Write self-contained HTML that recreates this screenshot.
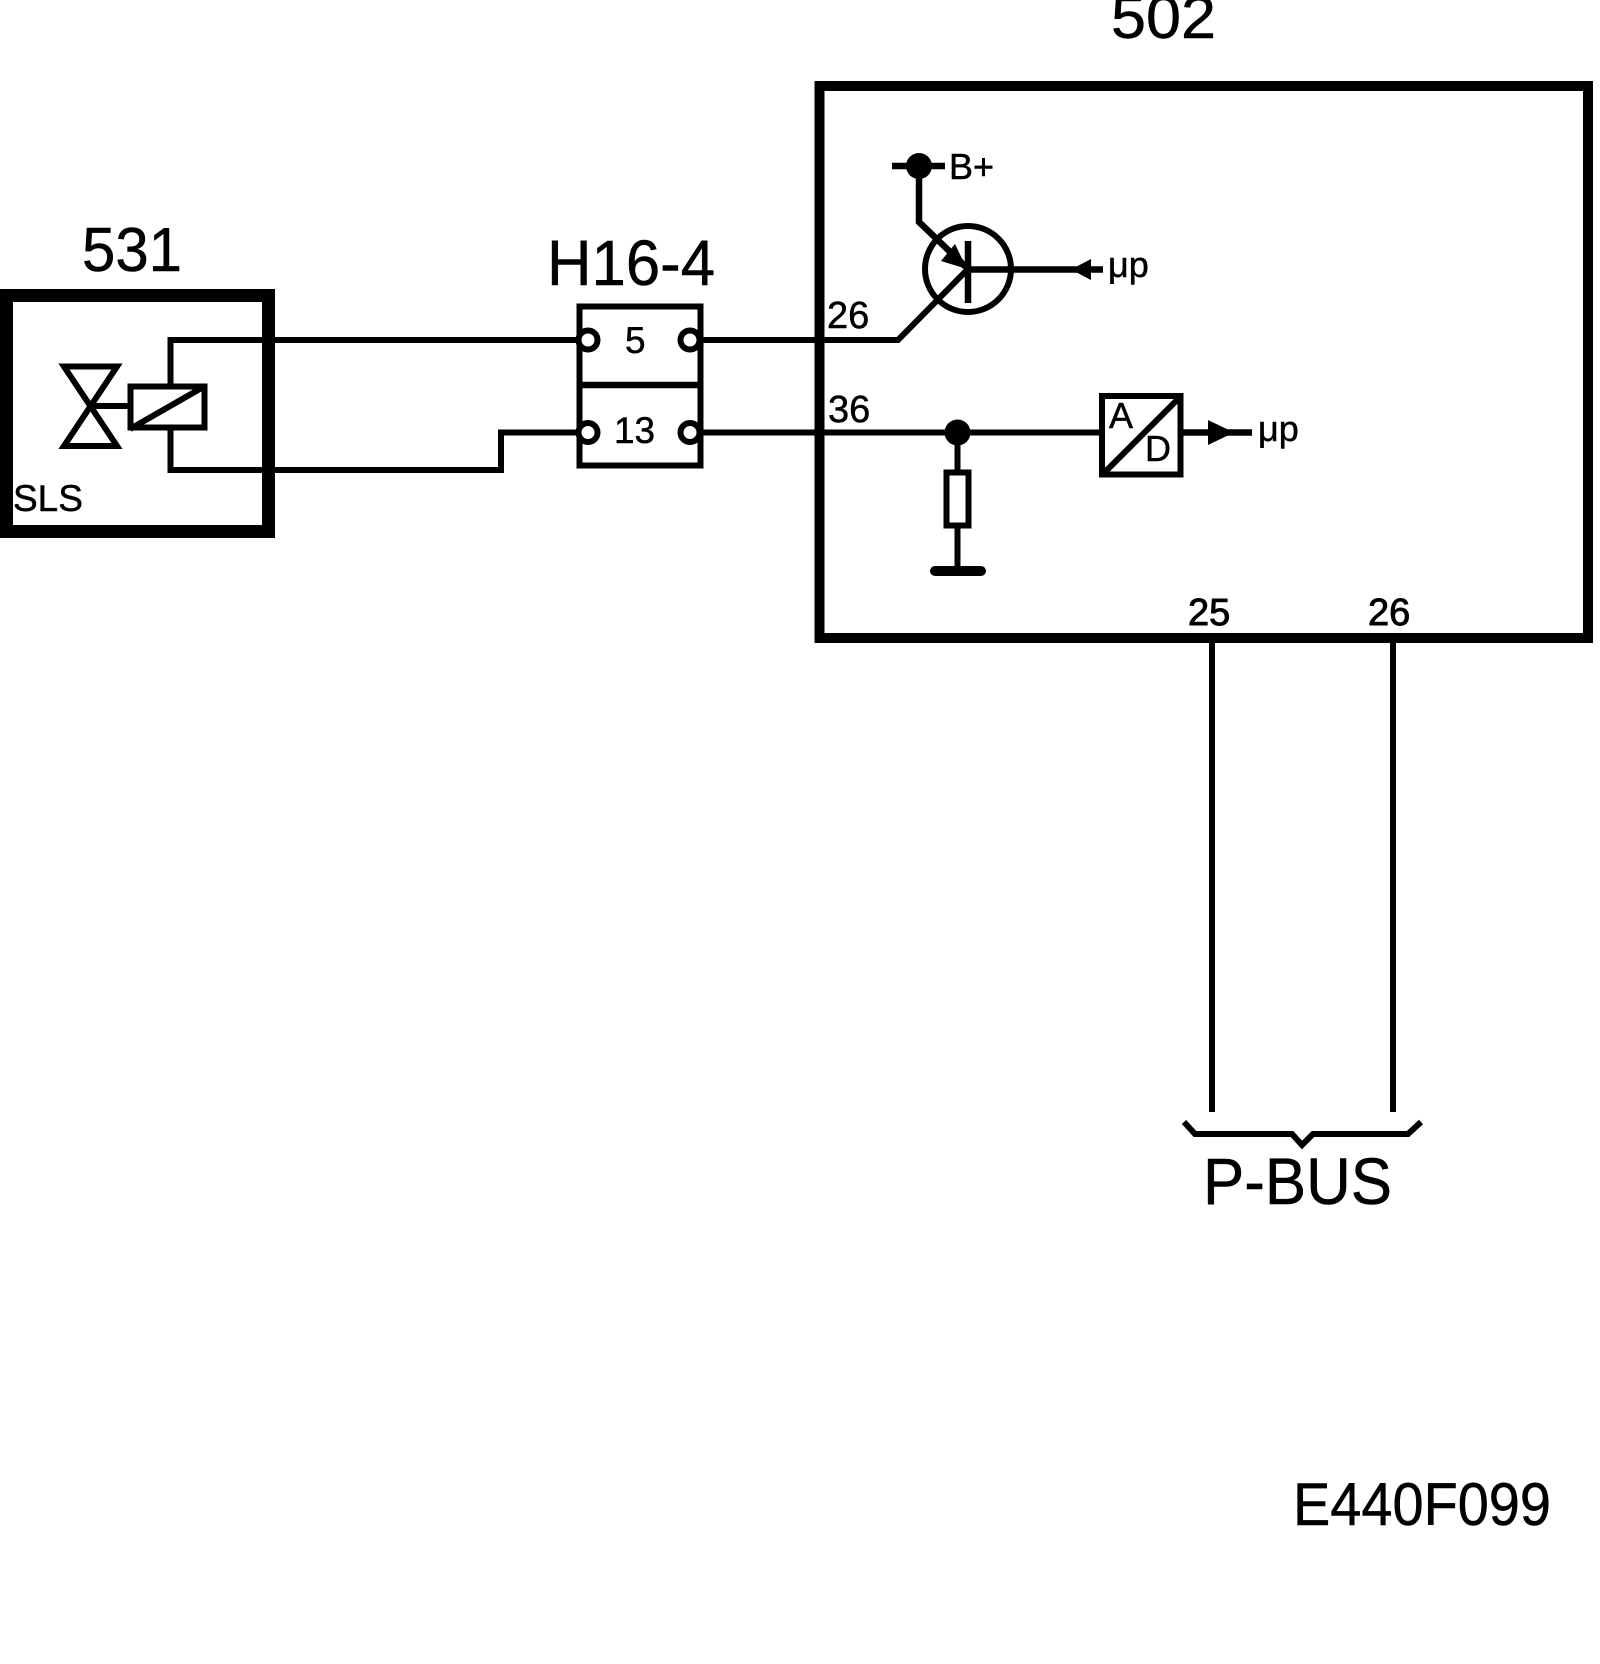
<!DOCTYPE html>
<html>
<head>
<meta charset="utf-8">
<style>
html,body{margin:0;padding:0;background:#fff;}
svg{display:block;}
text{font-family:"Liberation Sans",Arial,sans-serif;fill:#000;stroke:#000;stroke-width:0.5px;}
</style>
</head>
<body>
<svg width="1600" height="1664" viewBox="0 0 1600 1664" xmlns="http://www.w3.org/2000/svg">
<rect width="1600" height="1664" fill="#fff"/>
<g fill="none" stroke="#000" stroke-linejoin="miter">
  <!-- 531 -->
  <rect x="6.5" y="295.5" width="262" height="236" stroke-width="13"/>
  <path d="M585 340H170.5V385" stroke-width="6"/>
  <path d="M170.5 430V470H501V432.5H580" stroke-width="6"/>
  <rect x="130.5" y="386.5" width="74" height="41" stroke-width="6"/>
  <path d="M130 429L205 386" stroke-width="6"/>
  <path d="M64 366.5H117L64 446H117Z" stroke-width="6"/>
  <path d="M90 406H130" stroke-width="6"/>
  <!-- H16-4 -->
  <rect x="579.5" y="306.5" width="121" height="159" stroke-width="6"/>
  <path d="M580 385H700" stroke-width="6.5"/>
  <path d="M700 340H898L968 269" stroke-width="6"/>
  <path d="M700 432.5H1100" stroke-width="6"/>
  <circle cx="588" cy="340" r="9.5" fill="#fff" stroke-width="6"/>
  <circle cx="690" cy="340" r="9.5" fill="#fff" stroke-width="6"/>
  <circle cx="588" cy="432.5" r="9.5" fill="#fff" stroke-width="6"/>
  <circle cx="690" cy="432.5" r="9.5" fill="#fff" stroke-width="6"/>
  <!-- 502 -->
  <rect x="819.5" y="86" width="768.5" height="552" stroke-width="10"/>
  <!-- transistor -->
  <circle cx="968" cy="269" r="43" stroke-width="6"/>
  <path d="M968 241V303" stroke-width="6.5"/>
  <path d="M968 269.5H1103" stroke-width="6.5"/>
  <path d="M892 166H945" stroke-width="6.5"/>
  <path d="M919 166V222L968 269" stroke-width="6.5"/>
  <!-- resistor -->
  <path d="M957.5 432V471M957.5 527V570" stroke-width="6"/>
  <rect x="946.5" y="472.5" width="22" height="53" stroke-width="6"/>
  <path d="M935 571H981" stroke-width="10" stroke-linecap="round"/>
  <!-- AD -->
  <rect x="1102" y="396" width="78.5" height="78.5" stroke-width="6"/>
  <path d="M1102 475L1181 396" stroke-width="6"/>
  <path d="M1183 432.5H1252" stroke-width="6.5"/>
  <!-- bus -->
  <path d="M1212 643V1112M1393 643V1112" stroke-width="6"/>
  <path d="M1184 1122L1195 1134H1292L1302 1145L1313 1134H1408L1421 1122" stroke-width="6"/>
</g>
<g fill="#000" stroke="none">
  <circle cx="919" cy="166" r="13"/>
  <circle cx="957.5" cy="432.5" r="13"/>
  <polygon points="967,269 955,244 941,261"/>
  <polygon points="1071,269.5 1091,259 1091,280"/>
  <polygon points="1234,432.5 1208,420 1208,445"/>
</g>
<g>
  <text x="1111" y="38" font-size="60" textLength="105" lengthAdjust="spacingAndGlyphs">502</text>
  <text x="82" y="271" font-size="62" textLength="100" lengthAdjust="spacingAndGlyphs">531</text>
  <text x="547" y="285" font-size="64" textLength="168" lengthAdjust="spacingAndGlyphs">H16-4</text>
  <text x="13" y="511" font-size="37">SLS</text>
  <text x="625" y="353" font-size="37">5</text>
  <text x="614" y="443" font-size="37" textLength="41" lengthAdjust="spacingAndGlyphs">13</text>
  <text x="827" y="328" font-size="38">26</text>
  <text x="828" y="422" font-size="38">36</text>
  <text x="949" y="179" font-size="36">B+</text>
  <text x="1108" y="277" font-size="36">μp</text>
  <text x="1109" y="428" font-size="36">A</text>
  <text x="1145" y="461" font-size="36">D</text>
  <text x="1258" y="441" font-size="36">μp</text>
  <text x="1188" y="625" font-size="38" style="stroke-width:0.9px">25</text>
  <text x="1368" y="625" font-size="38" style="stroke-width:0.9px">26</text>
  <text x="1203" y="1204" font-size="66" textLength="189" lengthAdjust="spacingAndGlyphs">P-BUS</text>
  <text x="1293" y="1525" font-size="60" textLength="258" lengthAdjust="spacingAndGlyphs">E440F099</text>
</g>
</svg>
</body>
</html>
